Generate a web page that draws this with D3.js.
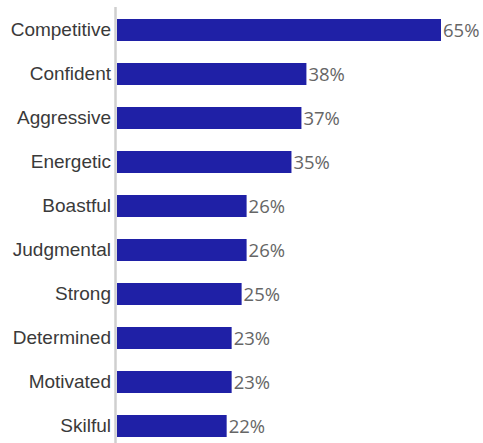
<!DOCTYPE html>
<html>
<head>
<meta charset="utf-8">
<script src="https://cdn.jsdelivr.net/npm/d3@7"></script>
<style>
  html, body { margin: 0; padding: 0; background: #fff; }
  svg { display: block; }
</style>
</head>
<body>
<svg id="chart" width="483" height="443"></svg>
<script>
// Traits and the share of respondents choosing each (%)
const traits = ["Competitive", "Confident", "Aggressive", "Energetic", "Boastful",
                "Judgmental", "Strong", "Determined", "Motivated", "Skilful"];
const shares = [65, 38, 37, 35, 26, 26, 25, 23, 23, 22];

const svg = d3.select("#chart");

const x = d3.scaleLinear().domain([0, 65]).range([117, 441]);
const y = d3.scaleBand().domain(traits).range([8, 448])
  .paddingInner(0.5).paddingOuter(0.25);

const rows = traits.map((t, i) => ({ trait: t, value: shares[i] }));

// bars
svg.append("g").selectAll("rect").data(rows).join("rect")
  .attr("x", x(0))
  .attr("y", d => y(d.trait))
  .attr("width", d => x(d.value) - x(0))
  .attr("height", y.bandwidth())
  .attr("fill", "#1f20a6");

// vertical baseline
svg.append("line")
  .attr("x1", 115.5).attr("x2", 115.5)
  .attr("y1", 7).attr("y2", 443)
  .attr("stroke", "#cfcfcf").attr("stroke-width", 2.5);

// category labels
svg.append("g").selectAll("text").data(rows).join("text")
  .attr("x", 111)
  .attr("y", d => y(d.trait) + y.bandwidth() / 2)
  .attr("dy", "0.3em")
  .attr("text-anchor", "end")
  .attr("font-family", "'Liberation Sans', Arial, sans-serif")
  .attr("font-size", "19px")
  .attr("fill", "#3a3a3a")
  .text(d => d.trait);

// value labels
svg.append("g").selectAll("text").data(rows).join("text")
  .attr("x", d => x(d.value) + 2)
  .attr("y", d => y(d.trait) + y.bandwidth() / 2)
  .attr("dy", "0.36em")
  .attr("font-family", "'Open Sans', sans-serif")
  .attr("font-size", "18.5px")
  .attr("fill", "#666")
  .text(d => d.value + "%");
</script>
</body>
</html>
